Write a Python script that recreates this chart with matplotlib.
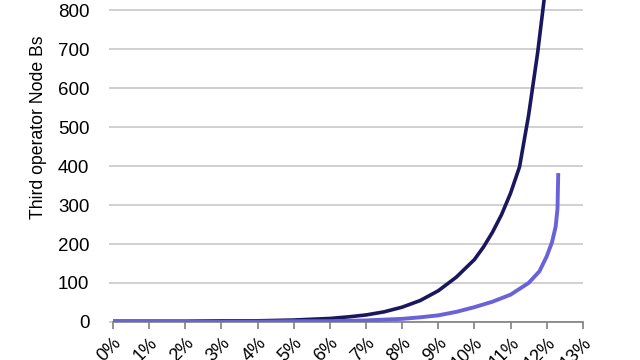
import numpy as np
import matplotlib.pyplot as plt

plt.rcParams['font.family'] = ['Liberation Sans', 'DejaVu Sans']

# x in percent, y = number of Node Bs
dark_x = [0, 1, 2, 3, 4, 5, 6, 6.5, 7, 7.5, 8, 8.5, 9, 9.5, 10, 10.25, 10.5, 10.75,
          11, 11.25, 11.5, 11.75, 12.0]
dark_y = [2, 2, 2, 3, 3, 5, 9, 13, 18, 26, 38, 55, 80, 115, 160, 192, 230, 275,
          330, 398, 530, 690, 880]

light_x = [0, 1, 2, 3, 4, 5, 6, 7, 7.5, 8, 8.5, 9, 9.5, 10, 10.5, 11, 11.5, 11.8,
           12.0, 12.15, 12.25, 12.3, 12.32]
light_y = [1, 1, 1, 1, 1, 2, 2, 4, 6, 8, 12, 17, 26, 38, 52, 70, 100, 130,
           168, 205, 245, 290, 377]

tick_labels = ['%d%%' % i for i in range(14)]

fig = plt.figure(figsize=(6.4, 3.6), dpi=100)
ax = fig.add_axes([0.1766, 0.1056, 0.734, 1.083])

ax.plot(dark_x, dark_y, color='#1a175f', lw=2.6, solid_joinstyle='round', zorder=3)
ax.plot(light_x, light_y, color='#6a62d8', lw=2.8, solid_joinstyle='round', zorder=3)

ax.set_xlim(0, 13)
ax.set_ylim(0, 1000)
ax.set_yticks(range(0, 900, 100))
ax.set_xticks(range(14))
ax.set_xticklabels(tick_labels, rotation=45, ha='right', va='top', rotation_mode='anchor')

ax.grid(axis='y', color='#c8c8c8', lw=1.2)
ax.set_axisbelow(True)
for s in ['top', 'right', 'left']:
    ax.spines[s].set_visible(False)
ax.spines['bottom'].set_color('#808080')
ax.spines['bottom'].set_linewidth(1.2)
ax.tick_params(axis='x', direction='out', length=5, color='#808080', width=1.2,
               labelsize=13, pad=4)
ax.tick_params(axis='y', direction='out', length=3, color='#c8c8c8', width=1.2,
               labelsize=13.5, pad=14)
ax.set_ylabel('Third operator Node Bs', fontsize=12.7, labelpad=8)

fig.savefig('out.png', dpi=100)
